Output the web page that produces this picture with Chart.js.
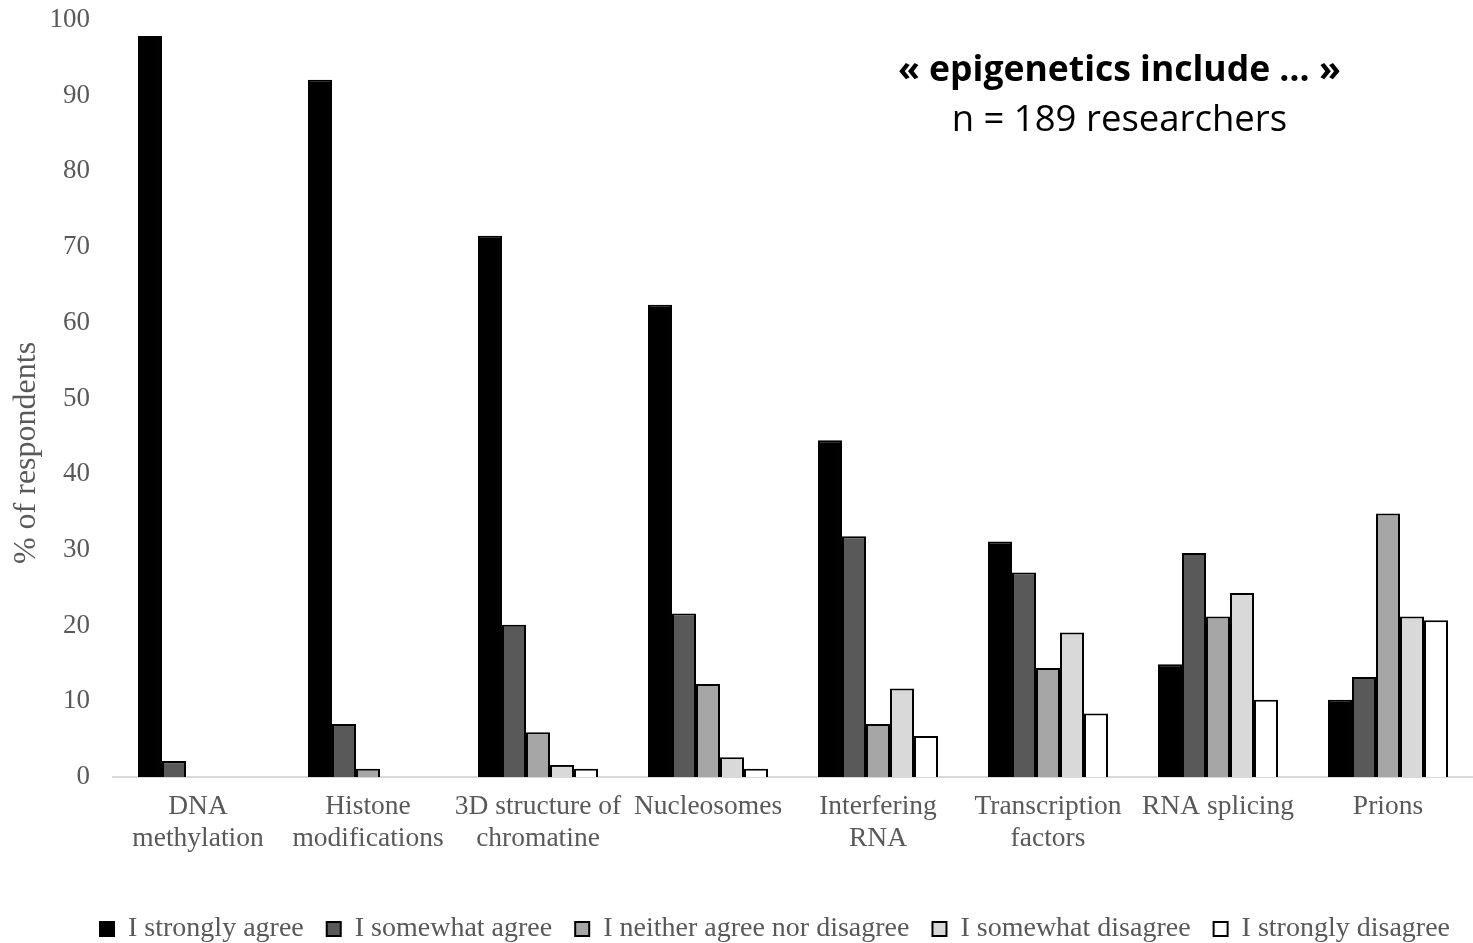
<!DOCTYPE html>
<html>
<head>
<meta charset="utf-8">
<script src="https://cdn.jsdelivr.net/npm/chart.js@4/dist/chart.umd.min.js"></script>
<style>
  html, body { margin: 0; padding: 0; background: #fff; }
  #wrap { width: 1473px; height: 943px; }
</style>
</head>
<body>
<div id="wrap"><canvas id="chart"></canvas></div>
<script>
const categories = [
  ['DNA', 'methylation'],
  ['Histone', 'modifications'],
  ['3D structure of', 'chromatine'],
  'Nucleosomes',
  ['Interfering', 'RNA'],
  ['Transcription', 'factors'],
  'RNA splicing',
  'Prions'
];

const stronglyAgree    = [97.9, 92.1, 71.5, 62.4, 44.5, 31.1, 14.9, 10.2];
const somewhatAgree    = [2.1, 7.0, 20.1, 21.6, 31.8, 27.0, 29.6, 13.2];
const neither          = [0, 1.1, 5.9, 12.3, 7.0, 14.4, 21.2, 34.8];
const somewhatDisagree = [0, 0, 1.6, 2.6, 11.7, 19.1, 24.3, 21.2];
const stronglyDisagree = [0, 0, 1.1, 1.1, 5.4, 8.4, 10.2, 20.7];

const seriesNames = ['I strongly agree', 'I somewhat agree', 'I neither agree nor disagree',
  'I somewhat disagree', 'I strongly disagree'];
const seriesColors = ['#000000', '#595959', '#a6a6a6', '#d9d9d9', '#ffffff'];
const yTicks = [0, 10, 20, 30, 40, 50, 60, 70, 80, 90, 100];

const serif = "'Liberation Serif', 'Times New Roman', serif";
const grey = '#595959';

const allSeries = [stronglyAgree, somewhatAgree, neither, somewhatDisagree, stronglyDisagree];

// heading in the top right and rotated y title
const extraText = {
  id: 'extraText',
  afterDraw(chart) {
    const ctx = chart.ctx;
    const area = chart.chartArea;
    const cx = area.left + area.width * 0.74;
    ctx.save();
    ctx.fillStyle = '#000';
    ctx.textAlign = 'center';
    ctx.textBaseline = 'middle';
    ctx.font = "bold 35.5px 'Open Sans', Lato, sans-serif";
    ctx.fillText('« epigenetics include … »', cx, 71);
    ctx.font = "36.5px 'Open Sans', Lato, sans-serif";
    ctx.fillText('n = 189 researchers', cx, 121);

    ctx.translate(27, 453);
    ctx.rotate(-Math.PI / 2);
    ctx.fillStyle = grey;
    ctx.font = '32px ' + serif;
    ctx.fillText('% of respondents', 0, 0);
    ctx.restore();
  }
};

new Chart(document.getElementById('chart'), {
  type: 'bar',
  data: {
    labels: categories,
    datasets: allSeries.map((vals, i) => ({
      label: seriesNames[i],
      data: vals,
      backgroundColor: seriesColors[i],
      borderColor: '#000000',
      borderWidth: 2,
      barPercentage: 1,
      categoryPercentage: 0.706
    }))
  },
  options: {
    responsive: true,
    maintainAspectRatio: false,
    animation: false,
    layout: { padding: { top: 20, right: 0, left: 0, bottom: -10 } },
    plugins: {
      legend: {
        position: 'bottom',
        align: 'end',
        labels: {
          color: grey,
          font: { family: serif, size: 28 },
          boxWidth: 14,
          boxHeight: 14,
          padding: 23
        }
      },
      tooltip: { enabled: false }
    },
    scales: {
      x: {
        grid: { display: false, drawTicks: false },
        border: { display: true, color: '#d9d9d9', width: 2 },
        ticks: {
          color: grey,
          font: { family: serif, size: 27.5, lineHeight: 1.15 },
          padding: 14,
          maxRotation: 0,
          autoSkip: false
        },
        afterFit(scale) { scale.height = 115; }
      },
      y: {
        min: 0,
        max: 100,
        afterBuildTicks(scale) { scale.ticks = yTicks.map(v => ({ value: v })); },
        grid: { display: false, drawTicks: false },
        border: { display: false },
        ticks: {
          color: grey,
          font: { family: serif, size: 27 },
          padding: 23
        },
        afterFit(scale) {
          scale.width = 113;
          scale.paddingTop = 0;
          scale.paddingBottom = 0;
        }
      }
    }
  },
  plugins: [extraText]
});
</script>
</body>
</html>
